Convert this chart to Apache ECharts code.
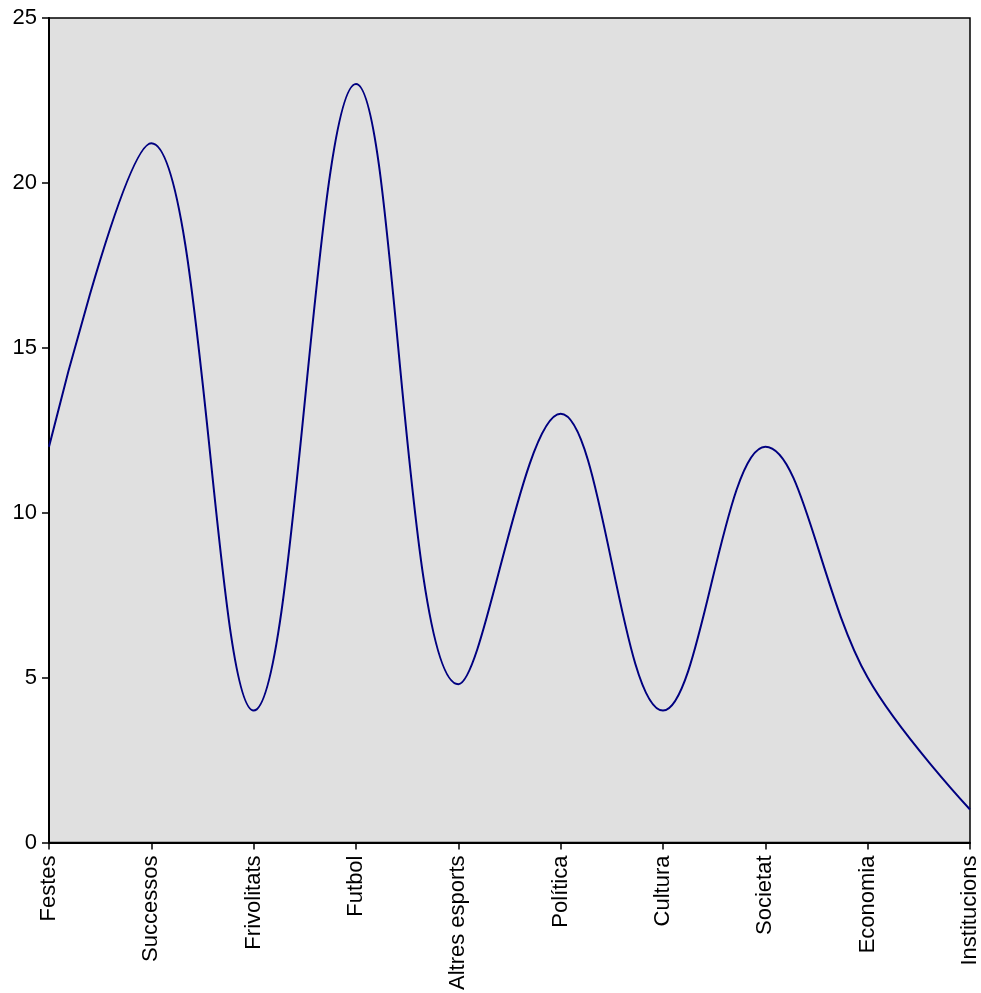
<!DOCTYPE html>
<html><head><meta charset="utf-8">
<script src="https://cdn.jsdelivr.net/npm/echarts@6/dist/echarts.min.js"></script>
<style>html,body{margin:0;padding:0;background:#fff}#c{width:981px;height:993px}</style>
</head><body><div id="c"></div>
<script>
var categories = ['Festes','Successos','Frivolitats','Futbol','Altres esports','Política','Cultura','Societat','Economia','Institucions'];
var values = [12, 21.2, 4, 23, 4.8, 13, 4, 12, 5, 1];
var yTicks = {min: 0, max: 25, interval: 5};

var chart = echarts.init(document.getElementById('c'));
chart.setOption({
  animation: false,
  backgroundColor: '#ffffff',
  grid: {left: 49, right: 9, top: 18, bottom: 150, show: true, backgroundColor: '#e0e0e0', borderColor: '#000', borderWidth: 1.5},
  xAxis: {
    type: 'category', data: categories, boundaryGap: false,
    axisLine: {lineStyle: {color: '#000', width: 2}},
    axisTick: {show: true, length: 7, lineStyle: {color: '#000', width: 1.5}},
    axisLabel: {rotate: 90, color: '#000', fontFamily: 'Liberation Sans, Arial', fontSize: 22, margin: 13, interval: 0},
    splitLine: {show: false}
  },
  yAxis: {
    type: 'value', min: yTicks.min, max: yTicks.max, interval: yTicks.interval,
    axisLine: {show: true, lineStyle: {color: '#000', width: 2}},
    axisTick: {show: true, length: 7, lineStyle: {color: '#000', width: 1.5}},
    axisLabel: {color: '#000', fontFamily: 'Liberation Sans, Arial', fontSize: 22, margin: 12},
    splitLine: {show: false}
  },
  series: [{
    type: 'line', data: values, smooth: 0.38, showSymbol: false,
    lineStyle: {color: '#000080', width: 2}
  }]
});
</script></body></html>
